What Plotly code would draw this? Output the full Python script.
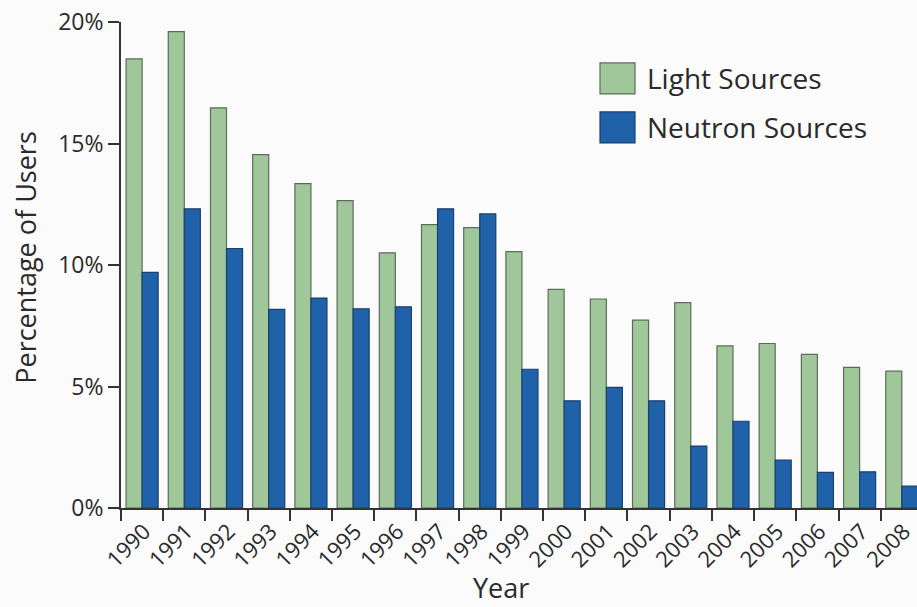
import plotly.graph_objects as go

years = [str(y) for y in range(1990, 2009)]
light_sources = [18.48, 19.6, 16.47, 14.54, 13.35, 12.65, 10.5, 11.66, 11.54, 10.55,
                 9.0, 8.6, 7.73, 8.45, 6.67, 6.77, 6.32, 5.79, 5.63]
neutron_sources = [9.7, 12.31, 10.68, 8.17, 8.64, 8.2, 8.28, 12.31, 12.1, 5.71,
                   4.41, 4.96, 4.41, 2.55, 3.57, 1.97, 1.47, 1.49, 0.9]
y_ticks = [0, 5, 10, 15, 20]
y_tick_labels = ["0%", "5%", "10%", "15%", "20%"]

FONT = "Open Sans"
GREEN = "#a0c79a"
BLUE = "#2062aa"
TXT = "#2a2a2a"


def px(xp):  # page x -> paper x
    return (xp - 121) / 796


def py(yp):  # page y -> paper y
    return 1 - (yp - 22) / 486.5


fig = go.Figure()
fig.add_trace(go.Bar(x=years, y=light_sources, name="Light Sources",
                     marker=dict(color=GREEN, line=dict(color="#5e6b5c", width=1.2)),
                     showlegend=False))
fig.add_trace(go.Bar(x=years, y=neutron_sources, name="Neutron Sources",
                     marker=dict(color=BLUE, line=dict(color="#1b3f6e", width=1.2)),
                     showlegend=False))

# manual legend with large swatches
legend_items = [("Light Sources", GREEN, "#5e6b5c"), ("Neutron Sources", BLUE, "#1b3f6e")]
for i, (label, fill, edge) in enumerate(legend_items):
    y0 = 63 + i * 49
    fig.add_shape(type="rect", xref="paper", yref="paper",
                  x0=px(600), x1=px(635), y0=py(y0 + 31), y1=py(y0),
                  fillcolor=fill, line=dict(color=edge, width=1.2))
    fig.add_annotation(xref="paper", yref="paper", x=px(645), y=py(y0 + 15),
                       text=label, showarrow=False, xanchor="left", yanchor="middle",
                       font=dict(family=FONT, size=28, color=TXT))

# axis titles
fig.add_annotation(xref="paper", yref="paper", x=px(501), y=py(588), text="Year",
                   showarrow=False, xanchor="center", yanchor="middle",
                   font=dict(family=FONT, size=27, color=TXT))
fig.add_annotation(xref="paper", yref="paper", x=px(26), y=py(258),
                   text="Percentage of Users", textangle=-90,
                   showarrow=False, xanchor="center", yanchor="middle",
                   font=dict(family=FONT, size=27, color=TXT))

fig.update_layout(
    width=917, height=607,
    margin=dict(l=121, r=0, t=22, b=98.5, autoexpand=False),
    paper_bgcolor="#fbfbfb", plot_bgcolor="#fbfbfb",
    barmode="group", bargap=0.24, bargroupgap=0,
    font=dict(family=FONT, color=TXT),
    xaxis=dict(
        type="category", range=[-0.5, 18.36], tickson="boundaries",
        ticks="outside", ticklen=11, tickwidth=1.5, tickcolor="#333",
        showline=True, linecolor="#333", linewidth=1.8,
        showgrid=False, tickangle=-45, ticklabelshift=2, automargin=False,
        ticklabeloverflow="allow",
        tickfont=dict(family=FONT, size=22, color=TXT),
    ),
    yaxis=dict(
        range=[0, 20], tickvals=y_ticks, ticktext=y_tick_labels,
        ticks="outside", ticklen=11, tickwidth=1.5, tickcolor="#333",
        showline=True, linecolor="#333", linewidth=1.8,
        showgrid=False, zeroline=False, automargin=False,
        ticklabeloverflow="allow",
        tickfont=dict(family=FONT, size=23, color=TXT),
    ),
)

fig.write_html("out.html", config={"displayModeBar": False},
               post_script="document.body.style.margin='0';document.body.style.overflow='hidden';")
